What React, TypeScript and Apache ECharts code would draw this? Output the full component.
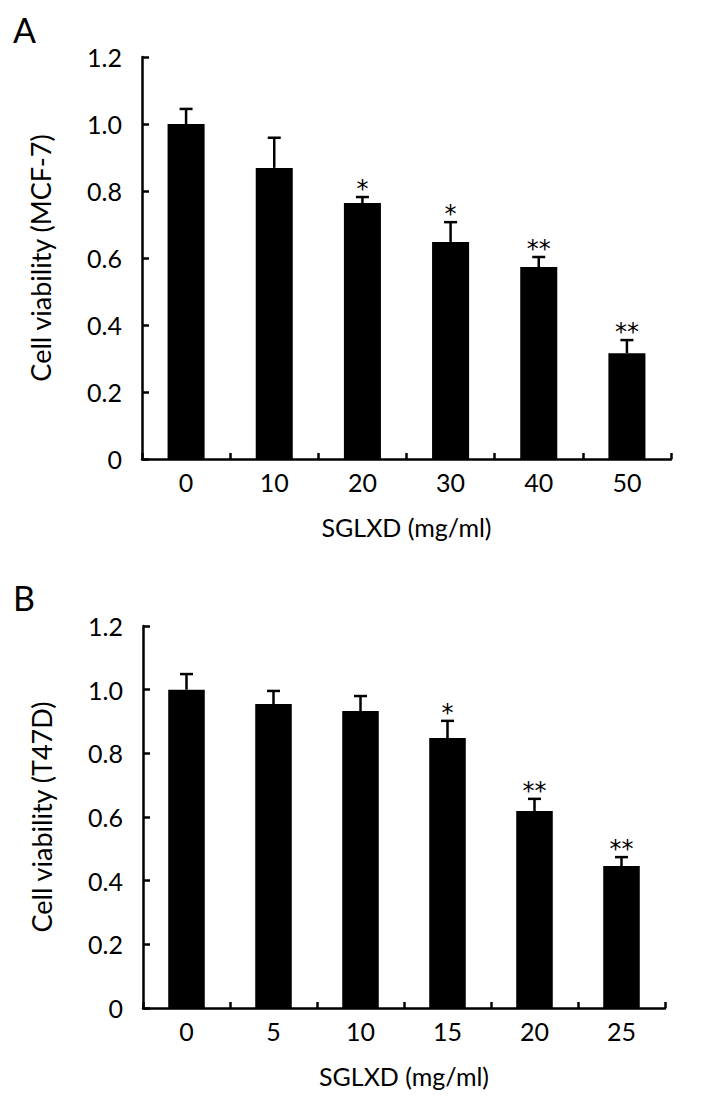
import React, { useEffect, useRef } from "react";
import * as echarts from "echarts";

const catsA = ["0", "10", "20", "30", "40", "50"];
const valsA = [1.0, 0.869, 0.764, 0.648, 0.573, 0.316];
const errA = [0.045, 0.09, 0.018, 0.059, 0.03, 0.039];
const sigA = ["", "", "*", "*", "**", "**"];

const catsB = ["0", "5", "10", "15", "20", "25"];
const valsB = [1.0, 0.955, 0.933, 0.848, 0.619, 0.446];
const errB = [0.049, 0.041, 0.047, 0.054, 0.038, 0.028];
const sigB = ["", "", "", "*", "**", "**"];

const yTicks = [0, 0.2, 0.4, 0.6, 0.8, 1.0, 1.2];

const FONT = "Lato";
const LW = 2.5;

function errSeries(gridIdx: number, vals: number[], errs: number[], sigs: string[]) {
  const data = vals.map((v, i) => [i, v, v + errs[i], sigs[i]]);
  return {
    type: "custom",
    xAxisIndex: gridIdx,
    yAxisIndex: gridIdx,
    data,
    z: 5,
    renderItem: (params: any, api: any) => {
      const i = api.value(0);
      const base = api.coord([i, api.value(1)]);
      const top = api.coord([i, api.value(2)]);
      const sig = data[params.dataIndex][3] as string;
      const capHalf = 6.5;
      const children: any[] = [
        {
          type: "line",
          shape: { x1: base[0], y1: base[1], x2: top[0], y2: top[1] },
          style: { stroke: "#000", lineWidth: LW },
        },
        {
          type: "line",
          shape: { x1: top[0] - capHalf, y1: top[1], x2: top[0] + capHalf, y2: top[1] },
          style: { stroke: "#000", lineWidth: LW },
        },
      ];
      if (sig) {
        children.push({
          type: "text",
          x: top[0],
          y: top[1] + 4,
          style: {
            text: sig,
            fill: "#000",
            font: `24px "DejaVu Sans"`,
            align: "center",
            verticalAlign: "bottom",
          },
        });
      }
      return { type: "group", children };
    },
  };
}

function makeAxes(gridIdx: number, cats: string[], yName: string) {
  const xAxis = {
    type: "category",
    gridIndex: gridIdx,
    data: cats,
    name: "SGLXD (mg/ml)",
    nameLocation: "middle",
    nameGap: 55,
    nameTextStyle: { color: "#000", fontFamily: FONT, fontSize: 25 },
    axisLine: { lineStyle: { color: "#000", width: LW } },
    axisTick: { show: true, inside: true, length: 6, interval: 0, lineStyle: { color: "#000", width: LW } },
    axisLabel: { color: "#000", fontFamily: FONT, fontSize: 25, margin: 10, interval: 0 },
    splitLine: { show: false },
  };
  const yAxis = {
    type: "value",
    gridIndex: gridIdx,
    min: yTicks[0],
    max: yTicks[yTicks.length - 1],
    interval: 0.2,
    name: yName,
    nameLocation: "middle",
    nameGap: 88,
    nameTextStyle: { color: "#000", fontFamily: FONT, fontSize: 27 },
    axisLine: { show: true, lineStyle: { color: "#000", width: LW } },
    axisTick: { show: true, inside: true, length: 7, lineStyle: { color: "#000", width: LW } },
    axisLabel: {
      color: "#000",
      fontFamily: FONT,
      fontSize: 25,
      margin: 20,
      formatter: (v: number) => (v === 0 ? "0" : v.toFixed(1)),
    },
    splitLine: { show: false },
  };
  return { xAxis, yAxis };
}

export default function App() {
  const ref = useRef<HTMLDivElement>(null);
  useEffect(() => {
    document.body.style.margin = "0";
    if (!ref.current) return;
    const chart = echarts.init(ref.current, undefined, { renderer: "svg" });
    const a = makeAxes(0, catsA, "Cell viability (MCF-7)");
    const b = makeAxes(1, catsB, "Cell viability (T47D)");
    chart.setOption({
      animation: false,
      backgroundColor: "#fff",
      grid: [
        { left: 142, top: 57, width: 529, height: 402 },
        { left: 143, top: 626, width: 522, height: 382 },
      ],
      xAxis: [a.xAxis, b.xAxis],
      yAxis: [a.yAxis, b.yAxis],
      graphic: [
        { type: "text", left: 13, top: 12, style: { text: "A", fill: "#000", font: `34px ${FONT}` } },
        { type: "text", left: 13, top: 580, style: { text: "B", fill: "#000", font: `34px ${FONT}` } },
      ],
      series: [
        {
          type: "bar",
          xAxisIndex: 0,
          yAxisIndex: 0,
          data: valsA,
          barWidth: "42%",
          itemStyle: { color: "#000" },
        },
        errSeries(0, valsA, errA, sigA),
        {
          type: "bar",
          xAxisIndex: 1,
          yAxisIndex: 1,
          data: valsB,
          barWidth: "42%",
          itemStyle: { color: "#000" },
        },
        errSeries(1, valsB, errB, sigB),
      ],
    });
    return () => chart.dispose();
  }, []);
  return <div ref={ref} style={{ width: 704, height: 1114 }} />;
}
